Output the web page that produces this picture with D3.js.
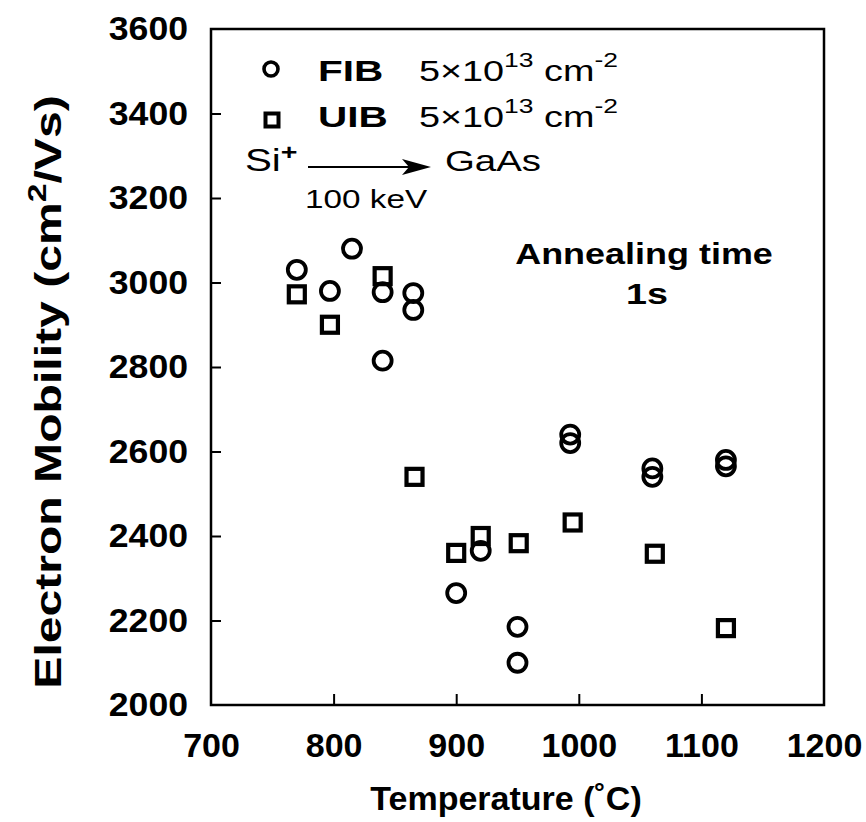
<!DOCTYPE html>
<html>
<head>
<meta charset="utf-8">
<script src="https://cdn.jsdelivr.net/npm/d3@7/dist/d3.min.js"></script>
<style>
  html, body { margin: 0; padding: 0; background: #fff; }
  svg { display: block; }
  text { font-family: "Liberation Sans", Arial, Helvetica, sans-serif; fill: #000; }
</style>
</head>
<body>
<svg id="chart" width="866" height="822"></svg>
<script>
// FIB (circles)
var fibTemp = [770, 797, 815, 840, 840, 865, 865, 900, 920, 950, 950, 993, 993, 1060, 1060, 1120, 1120];
var fibMobility = [3030, 2980, 3080, 2977, 2815, 2975, 2935, 2265, 2365, 2185, 2100, 2640, 2620, 2560, 2540, 2580, 2565];

// UIB (squares)
var uibTemp = [770, 797, 840, 866, 900, 920, 951, 995, 1062, 1120];
var uibMobility = [2972, 2900, 3015, 2540, 2360, 2400, 2383, 2432, 2358, 2182];

var xTicks = [700, 800, 900, 1000, 1100, 1200];
var yTicks = [2000, 2200, 2400, 2600, 2800, 3000, 3200, 3400, 3600];

var margin = { left: 211, right: 824, top: 29, bottom: 705 };
var svg = d3.select("#chart");

var x = d3.scaleLinear().domain([700, 1200]).range([margin.left, margin.right]);
var y = d3.scaleLinear().domain([2000, 3600]).range([margin.bottom, margin.top]);

// text stretched sideways, the original lettering is wide
function wideText(px, py, sx, size, weight, anchor) {
  return svg.append("g")
    .attr("transform", "translate(" + px + "," + py + ") scale(" + sx + ",1)")
    .append("text")
    .attr("font-size", size)
    .attr("font-weight", weight || "normal")
    .attr("text-anchor", anchor || "start");
}

// frame
svg.append("rect")
  .attr("x", margin.left).attr("y", margin.top)
  .attr("width", margin.right - margin.left).attr("height", margin.bottom - margin.top)
  .attr("fill", "none").attr("stroke", "#000").attr("stroke-width", 2.5);

// x axis: inward ticks, labels below
var xAxis = d3.axisBottom(x).tickValues(xTicks).tickSize(-11).tickPadding(28).tickFormat(d3.format("d"));
var gx = svg.append("g").attr("transform", "translate(0," + margin.bottom + ")").call(xAxis);
gx.select(".domain").remove();
gx.selectAll(".tick line").attr("stroke", "#000").attr("stroke-width", 2)
  .filter(function (d) { return d === 700 || d === 1200; }).remove();
gx.selectAll(".tick text")
  .attr("font-size", 34).attr("font-weight", "bold")
  .attr("font-family", "'Liberation Sans', Arial, sans-serif").attr("fill", "#000");

// y axis: inward ticks, labels left
var ySx = 1.08;
var yAxis = d3.axisLeft(y).tickValues(yTicks).tickSize(-10).tickPadding(23).tickFormat(d3.format("d"));
var gy = svg.append("g").attr("transform", "translate(" + margin.left + ",0)").call(yAxis);
gy.select(".domain").remove();
gy.selectAll(".tick line").attr("stroke", "#000").attr("stroke-width", 2)
  .filter(function (d) { return d === 2000 || d === 3600; }).remove();
gy.selectAll(".tick text")
  .attr("x", -23 / ySx).attr("transform", "scale(" + ySx + ",1)")
  .attr("font-size", 33).attr("font-weight", "bold")
  .attr("font-family", "'Liberation Sans', Arial, sans-serif").attr("fill", "#000");

// axis titles
svg.append("text")
  .attr("x", 506).attr("y", 810)
  .attr("text-anchor", "middle").attr("font-size", 34).attr("font-weight", "bold")
  .text("Temperature (˚C)");

var yTitle = svg.append("g")
  .attr("transform", "translate(61,392) rotate(-90) scale(1.3,1)")
  .append("text")
  .attr("text-anchor", "middle").attr("font-size", 37).attr("font-weight", "bold");
yTitle.append("tspan").text("Electron Mobility (cm");
yTitle.append("tspan").attr("font-size", 26).attr("dy", -15).text("2");
yTitle.append("tspan").attr("dy", 15).text("/Vs)");

// data points
var fib = fibTemp.map(function (t, i) { return { t: t, m: fibMobility[i] }; });
var uib = uibTemp.map(function (t, i) { return { t: t, m: uibMobility[i] }; });

svg.append("g").selectAll("circle").data(fib).join("circle")
  .attr("cx", function (d) { return x(d.t); })
  .attr("cy", function (d) { return y(d.m); })
  .attr("r", 9).attr("fill", "none").attr("stroke", "#000").attr("stroke-width", 3.8);

var sq = 16;
svg.append("g").selectAll("rect").data(uib).join("rect")
  .attr("x", function (d) { return x(d.t) - sq / 2; })
  .attr("y", function (d) { return y(d.m) - sq / 2; })
  .attr("width", sq).attr("height", sq)
  .attr("fill", "none").attr("stroke", "#000").attr("stroke-width", 4.2);

// legend
svg.append("circle").attr("cx", 271).attr("cy", 69).attr("r", 7)
  .attr("fill", "none").attr("stroke", "#000").attr("stroke-width", 3.6);
svg.append("rect").attr("x", 265.5).attr("y", 113.5).attr("width", 13).attr("height", 13)
  .attr("fill", "none").attr("stroke", "#000").attr("stroke-width", 4);

function legendRow(yPos, label) {
  wideText(318, yPos, 1.35, 30, "bold").text(label);
  var t = wideText(419, yPos, 1.26, 30);
  t.append("tspan").text("5×10");
  t.append("tspan").attr("font-size", 21).attr("dy", -14).text("13");
  t.append("tspan").attr("dy", 14).text(" cm");
  t.append("tspan").attr("font-size", 21).attr("dy", -14).text("-2");
}
legendRow(81, "FIB");
legendRow(127, "UIB");

// Si+ -> GaAs
var si = wideText(245, 171, 1.3, 31);
si.append("tspan").text("Si");
si.append("tspan").attr("font-size", 22).attr("dy", -11).attr("font-weight", "bold").text("+");

svg.append("line").attr("x1", 308).attr("y1", 167).attr("x2", 415).attr("y2", 167)
  .attr("stroke", "#000").attr("stroke-width", 2);
svg.append("path").attr("d", "M402,159 L431,167 L402,175 L409,167 Z").attr("fill", "#000");

wideText(445, 171, 1.28, 30).text("GaAs");
wideText(305, 208, 1.28, 26).text("100 keV");

// annealing time note
wideText(644, 264, 1.24, 29, "bold", "middle").text("Annealing time");
wideText(647, 304, 1.3, 29, "bold", "middle").text("1s");
</script>
</body>
</html>
